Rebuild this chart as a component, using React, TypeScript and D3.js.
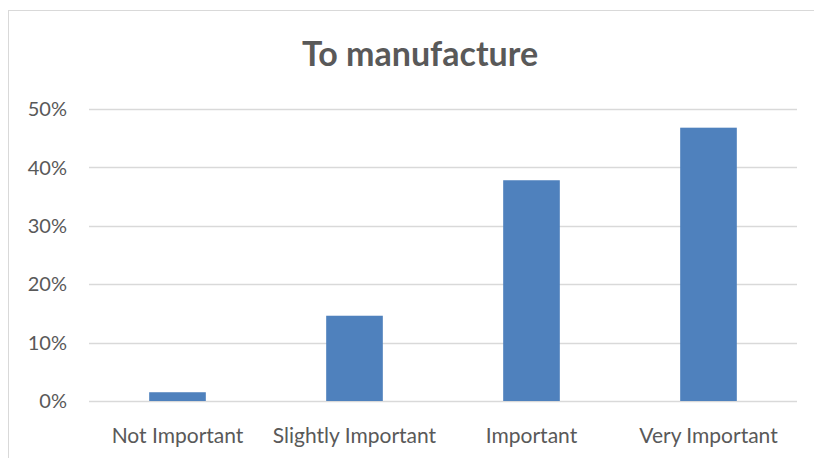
import { useEffect, useRef } from "react";
import * as d3 from "d3";

const categories = ["Not Important", "Slightly Important", "Important", "Very Important"];
const values = [0.015, 0.146, 0.378, 0.468];
const yTicks = [0, 0.1, 0.2, 0.3, 0.4, 0.5];
const title = "To manufacture";

export default function App() {
  const ref = useRef<SVGSVGElement | null>(null);

  useEffect(() => {
    const width = 814;
    const height = 458;
    const margin = { top: 109, right: 17, bottom: 57, left: 89 };

    const svg = d3.select(ref.current).attr("width", width).attr("height", height);
    svg.selectAll("*").remove();

    const font = "Lato, 'Open Sans', sans-serif";

    // chart frame
    svg
      .append("rect")
      .attr("x", 8.5)
      .attr("y", 10.5)
      .attr("width", width)
      .attr("height", height)
      .attr("fill", "#fff")
      .attr("stroke", "#d9d9d9");

    const x = d3
      .scaleBand()
      .domain(categories)
      .range([margin.left, width - margin.right])
      .paddingInner(0.68)
      .paddingOuter(0.34);

    const y = d3
      .scaleLinear()
      .domain([0, 0.5])
      .range([height - margin.bottom, margin.top]);

    svg
      .append("g")
      .selectAll("line")
      .data(yTicks)
      .enter()
      .append("line")
      .attr("x1", margin.left)
      .attr("x2", width - margin.right)
      .attr("y1", (d) => Math.round(y(d)) + 0.5)
      .attr("y2", (d) => Math.round(y(d)) + 0.5)
      .attr("stroke", "#d9d9d9")
      .attr("stroke-width", 1.3);

    svg
      .append("g")
      .selectAll("text")
      .data(yTicks)
      .enter()
      .append("text")
      .attr("x", 67)
      .attr("y", (d) => y(d))
      .attr("dy", "0.36em")
      .attr("text-anchor", "end")
      .attr("font-family", font)
      .attr("font-size", 20)
      .attr("fill", "#595959")
      .text((d) => d3.format(".0%")(d));

    svg
      .append("g")
      .selectAll("rect")
      .data(values)
      .enter()
      .append("rect")
      .attr("x", (_d, i) => x(categories[i])!)
      .attr("y", (d) => y(d))
      .attr("width", x.bandwidth())
      .attr("height", (d) => y(0) - y(d))
      .attr("fill", "#4f81bd");

    svg
      .append("g")
      .selectAll("text")
      .data(categories)
      .enter()
      .append("text")
      .attr("x", (d) => x(d)! + x.bandwidth() / 2)
      .attr("y", 443)
      .attr("text-anchor", "middle")
      .attr("font-family", font)
      .attr("font-size", 21)
      .attr("fill", "#595959")
      .text((d) => d);

    svg
      .append("text")
      .attr("x", 420)
      .attr("y", 66)
      .attr("text-anchor", "middle")
      .attr("font-family", font)
      .attr("font-weight", "bold")
      .attr("font-size", 34)
      .attr("fill", "#595959")
      .text(title);
  }, []);

  return (
    <div style={{ position: "fixed", left: 0, top: 0 }}>
      <svg ref={ref} style={{ display: "block" }} />
    </div>
  );
}
